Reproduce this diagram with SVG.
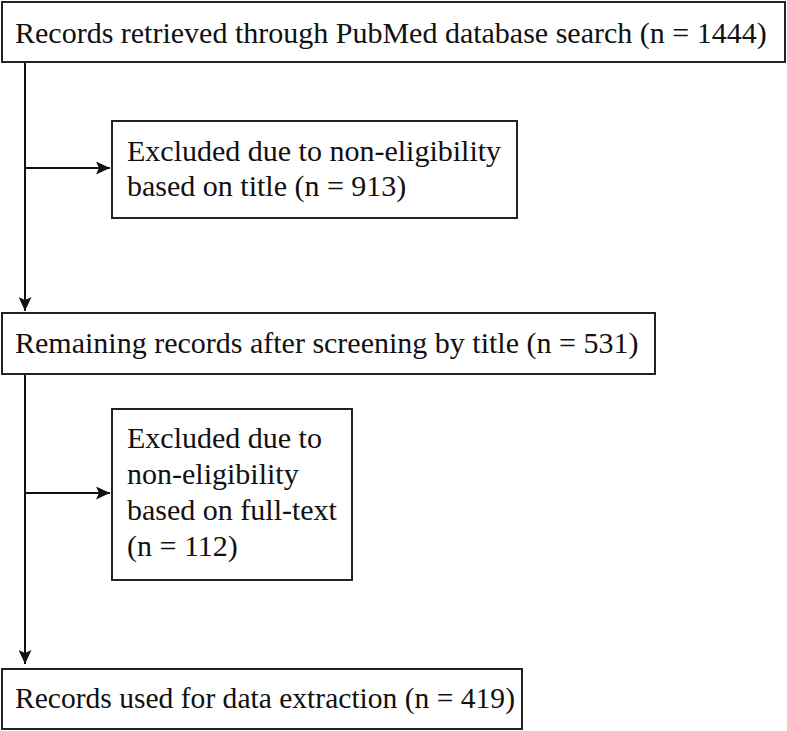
<svg xmlns="http://www.w3.org/2000/svg" width="787" height="731" viewBox="0 0 787 731">
<style>
.box{fill:#fff;stroke:#222;stroke-width:2}
.t{font-family:"Liberation Serif","Times New Roman",serif;font-size:30px;fill:#111}
.c{stroke:#111;stroke-width:2;fill:none}
</style>
<defs>
<marker id="ah" markerWidth="14" markerHeight="13" refX="14" refY="6.5" orient="auto" markerUnits="userSpaceOnUse">
<path d="M0,0 L14,6.5 L0,13 L3,6.5 Z" fill="#111"/>
</marker>
</defs>
<rect width="787" height="731" fill="#fff"/>
<g id="connectors">
<line class="c" x1="25" y1="62" x2="25" y2="311" marker-end="url(#ah)"/>
<line class="c" x1="25" y1="168" x2="110" y2="168" marker-end="url(#ah)"/>
<line class="c" x1="25" y1="374" x2="25" y2="664" marker-end="url(#ah)"/>
<line class="c" x1="25" y1="493" x2="110" y2="493" marker-end="url(#ah)"/>
</g>
<g id="n1">
<rect class="box" x="2" y="2" width="783" height="60"/>
<text class="t" x="15" y="42.5">Records retrieved through PubMed database search (n = 1444)</text>
</g>
<g id="n2">
<rect class="box" x="112" y="121" width="405" height="97"/>
<text class="t" x="127" y="161">Excluded due to non-eligibility</text>
<text class="t" x="127" y="196">based on title (n = 913)</text>
</g>
<g id="n3">
<rect class="box" x="2" y="313" width="653" height="61"/>
<text class="t" x="15" y="352.5">Remaining records after screening by title (n = 531)</text>
</g>
<g id="n4">
<rect class="box" x="112" y="409" width="240" height="171"/>
<text class="t" x="127" y="448">Excluded due to</text>
<text class="t" x="127" y="484">non-eligibility</text>
<text class="t" x="127" y="520">based on full-text</text>
<text class="t" x="127" y="556">(n = 112)</text>
</g>
<g id="n5">
<rect class="box" x="2" y="669" width="520" height="60"/>
<text class="t" x="15" y="707.5" textLength="500" lengthAdjust="spacingAndGlyphs">Records used for data extraction (n = 419)</text>
</g>
</svg>
